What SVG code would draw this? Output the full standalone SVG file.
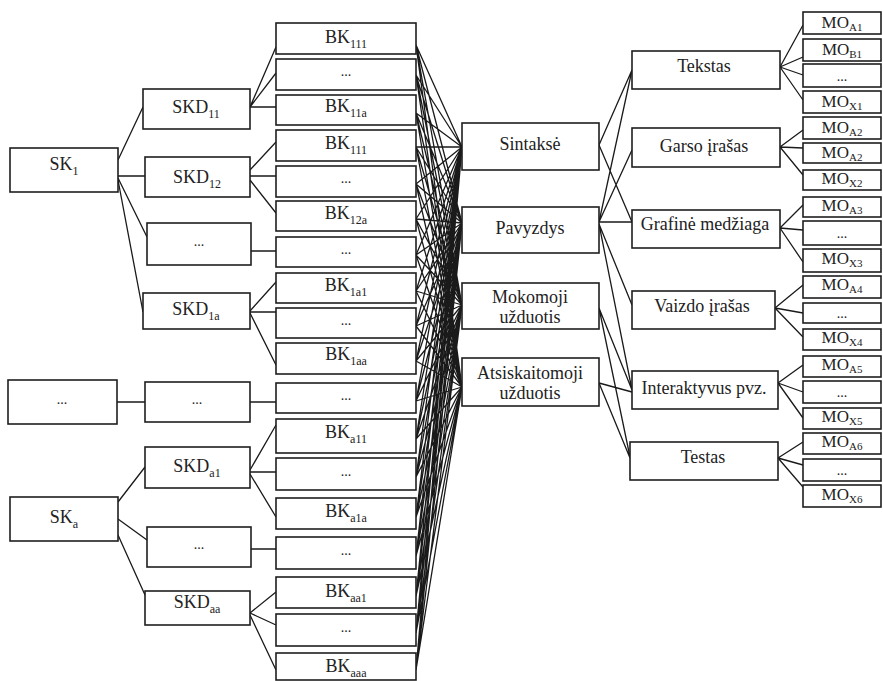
<svg xmlns="http://www.w3.org/2000/svg" width="883" height="681" viewBox="0 0 883 681">
<style>
rect{fill:#fff;stroke:#1e1e1e;stroke-width:1.6}
text{font-family:'Liberation Serif','Times New Roman',serif;font-size:18px;fill:#222;text-anchor:middle}
.s{font-size:12px}
.d{font-size:14px}
.mo{font-size:17px}
.ms{font-size:11px}
#connectors path{fill:none;stroke:#1a1a1a;stroke-width:1.3}
</style>
<rect x="0" y="0" width="883" height="681" style="fill:#fff;stroke:none"/>
<g id="connectors">
<path d="M118 160L143 107M118 176L145 176M118 178L147 237M118 180L143 312M117 402L145 402M118 502L145 467M118 519L147 540M118 535L145 595"/>
<path d="M250 107L276 47M250 107L276 73M250 107L276 107M250 170L276 142M250 176L276 176M250 180L276 213M251 251L276 251M250 311L276 282M250 312L276 312M250 313L276 365M250 402L276 402M250 470L276 425M250 472L276 472M250 474L276 517M251 549L276 549M250 613L276 592M250 613L276 625M250 615L276 670"/>
<path d="M416 45L462 147M416 45L462 223M416 45L462 305M416 45L462 387
M416 75L462 147M416 75L462 223M416 75L462 305M416 75L462 387
M416 113L462 147M416 113L462 223M416 113L462 305M416 113L462 387
M416 147L462 147M416 147L462 223M416 147L462 305M416 147L462 387
M416 184L462 147M416 184L462 223M416 184L462 305M416 184L462 387
M416 219L462 147M416 219L462 223M416 219L462 305M416 219L462 387
M416 255L462 147M416 255L462 223M416 255L462 305M416 255L462 387
M416 291L462 147M416 291L462 223M416 291L462 305M416 291L462 387
M416 326L462 147M416 326L462 223M416 326L462 305M416 326L462 387
M416 361L462 147M416 361L462 223M416 361L462 305M416 361L462 387
M416 401L462 147M416 401L462 223M416 401L462 305M416 401L462 387
M416 439L462 147M416 439L462 223M416 439L462 305M416 439L462 387
M416 477L462 147M416 477L462 223M416 477L462 305M416 477L462 387
M416 517L462 147M416 517L462 223M416 517L462 305M416 517L462 387
M416 556L462 147M416 556L462 223M416 556L462 305M416 556L462 387
M416 596L462 147M416 596L462 223M416 596L462 305M416 596L462 387
M416 633L462 147M416 633L462 223M416 633L462 305M416 633L462 387
M416 670L462 147M416 670L462 223M416 670L462 305M416 670L462 387"/>
<path d="M599 145L632 70M599 145L632 222M599 222L632 70M599 222L632 150M599 222L632 222M599 224L632 305M599 224L632 390M599 308L632 390M599 308L630 457M599 383L632 392M599 383L630 458"/>
<path d="M780 67L803 25M780 67L803 57M780 67L803 75M780 67L803 100M780 147L803 130M780 147L803 148M780 147L803 175M780 228L803 205M780 228L803 230M780 228L803 262M775 308L803 285M775 308L803 313M775 308L803 337M778 383L803 365M778 383L803 392M778 383L803 418M778 458L803 442M778 458L803 465M778 458L803 487"/>
</g>
<g id="sk1"><rect x="10" y="148" width="108" height="44"/><text x="64" y="170">SK<tspan class="s" dy="5">1</tspan></text></g>
<g id="skdots"><rect x="8" y="380" width="109" height="44"/><text class="d" x="62" y="404">...</text></g>
<g id="ska"><rect x="10" y="497" width="108" height="44"/><text x="64" y="523">SK<tspan class="s" dy="5">a</tspan></text></g>
<g id="skd11"><rect x="143" y="89" width="107" height="40"/><text x="196" y="113">SKD<tspan class="s" dy="5">11</tspan></text></g>
<g id="skd12"><rect x="145" y="157" width="105" height="40"/><text x="197" y="183">SKD<tspan class="s" dy="5">12</tspan></text></g>
<g id="skddots1"><rect x="147" y="223" width="104" height="42"/><text class="d" x="199" y="246">...</text></g>
<g id="skd1a"><rect x="143" y="293" width="107" height="36"/><text x="196" y="315">SKD<tspan class="s" dy="5">1a</tspan></text></g>
<g id="skddots2"><rect x="145" y="382" width="105" height="40"/><text class="d" x="197" y="404">...</text></g>
<g id="skda1"><rect x="145" y="447" width="105" height="41"/><text x="197" y="472">SKD<tspan class="s" dy="5">a1</tspan></text></g>
<g id="skddots3"><rect x="147" y="527" width="104" height="40"/><text class="d" x="199" y="549">...</text></g>
<g id="skdaa"><rect x="145" y="591" width="105" height="34"/><text x="197" y="608">SKD<tspan class="s" dy="5">aa</tspan></text></g>
<g id="bk111"><rect x="276" y="23" width="140" height="31"/><text x="346" y="43">BK<tspan class="s" dy="5">111</tspan></text></g>
<g id="bkd1"><rect x="276" y="59" width="140" height="31"/><text class="d" x="346" y="76">...</text></g>
<g id="bk11a"><rect x="276" y="95" width="140" height="30"/><text x="346" y="112">BK<tspan class="s" dy="5">11a</tspan></text></g>
<g id="bk111b"><rect x="276" y="130" width="140" height="31"/><text x="346" y="149">BK<tspan class="s" dy="5">111</tspan></text></g>
<g id="bkd2"><rect x="276" y="166" width="140" height="31"/><text class="d" x="346" y="183">...</text></g>
<g id="bk12a"><rect x="276" y="201" width="140" height="30"/><text x="346" y="219">BK<tspan class="s" dy="5">12a</tspan></text></g>
<g id="bkd3"><rect x="276" y="237" width="140" height="30"/><text class="d" x="346" y="254">...</text></g>
<g id="bk1a1"><rect x="276" y="273" width="140" height="30"/><text x="346" y="291">BK<tspan class="s" dy="5">1a1</tspan></text></g>
<g id="bkd4"><rect x="276" y="308" width="140" height="30"/><text class="d" x="346" y="325">...</text></g>
<g id="bk1aa"><rect x="276" y="343" width="140" height="31"/><text x="346" y="360">BK<tspan class="s" dy="5">1aa</tspan></text></g>
<g id="bkd5"><rect x="276" y="383" width="140" height="30"/><text class="d" x="346" y="400">...</text></g>
<g id="bka11"><rect x="276" y="419" width="140" height="34"/><text x="346" y="438">BK<tspan class="s" dy="5">a11</tspan></text></g>
<g id="bkd6"><rect x="276" y="458" width="140" height="32"/><text class="d" x="346" y="476">...</text></g>
<g id="bka1a"><rect x="276" y="498" width="140" height="31"/><text x="346" y="517">BK<tspan class="s" dy="5">a1a</tspan></text></g>
<g id="bkd7"><rect x="276" y="537" width="140" height="32"/><text class="d" x="346" y="555">...</text></g>
<g id="bkaa1"><rect x="276" y="577" width="140" height="31"/><text x="346" y="597">BK<tspan class="s" dy="5">aa1</tspan></text></g>
<g id="bkd8"><rect x="276" y="614" width="140" height="32"/><text class="d" x="346" y="632">...</text></g>
<g id="bkaaa"><rect x="276" y="653" width="140" height="27"/><text x="346" y="672">BK<tspan class="s" dy="5">aaa</tspan></text></g>
<g id="sintakse"><rect x="462" y="123" width="137" height="47"/><text x="530" y="150">Sintaksė</text></g>
<g id="pavyzdys"><rect x="462" y="207" width="137" height="46"/><text x="530" y="234">Pavyzdys</text></g>
<g id="mokomoji"><rect x="462" y="283" width="137" height="46"/><text x="530" y="303">Mokomoji</text><text x="530" y="323">užduotis</text></g>
<g id="atsiskaitomoji"><rect x="462" y="358" width="137" height="48"/><text x="530" y="379">Atsiskaitomoji</text><text x="530" y="399">užduotis</text></g>
<g id="tekstas"><rect x="632" y="51" width="148" height="38"/><text x="704" y="72">Tekstas</text></g>
<g id="garso"><rect x="632" y="128" width="148" height="39"/><text x="704" y="152">Garso įrašas</text></g>
<g id="grafine"><rect x="632" y="210" width="148" height="38"/><text x="705" y="230">Grafinė medžiaga</text></g>
<g id="vaizdo"><rect x="632" y="291" width="143" height="38"/><text x="702" y="312">Vaizdo įrašas</text></g>
<g id="interaktyvus"><rect x="632" y="371" width="146" height="38"/><text x="704" y="394">Interaktyvus pvz.</text></g>
<g id="testas"><rect x="630" y="442" width="148" height="38"/><text x="703" y="463">Testas</text></g>
<g id="moa1"><rect x="803" y="12" width="78" height="22"/><text class="mo" x="842" y="28">MO<tspan class="ms" dy="3">A1</tspan></text></g>
<g id="mob1"><rect x="803" y="39" width="78" height="22"/><text class="mo" x="842" y="55">MO<tspan class="ms" dy="3">B1</tspan></text></g>
<g id="mod1"><rect x="803" y="64" width="78" height="23"/><text class="d" x="842" y="81">...</text></g>
<g id="mox1"><rect x="803" y="91" width="78" height="22"/><text class="mo" x="842" y="107">MO<tspan class="ms" dy="3">X1</tspan></text></g>
<g id="moa2"><rect x="803" y="117" width="78" height="22"/><text class="mo" x="842" y="133">MO<tspan class="ms" dy="3">A2</tspan></text></g>
<g id="moa2b"><rect x="803" y="143" width="78" height="20"/><text class="mo" x="842" y="158">MO<tspan class="ms" dy="3">A2</tspan></text></g>
<g id="mox2"><rect x="803" y="170" width="78" height="20"/><text class="mo" x="842" y="184">MO<tspan class="ms" dy="3">X2</tspan></text></g>
<g id="moa3"><rect x="803" y="197" width="78" height="20"/><text class="mo" x="842" y="211">MO<tspan class="ms" dy="3">A3</tspan></text></g>
<g id="mod3"><rect x="803" y="221" width="78" height="24"/><text class="d" x="842" y="238">...</text></g>
<g id="mox3"><rect x="803" y="249" width="78" height="23"/><text class="mo" x="842" y="264">MO<tspan class="ms" dy="3">X3</tspan></text></g>
<g id="moa4"><rect x="803" y="276" width="78" height="22"/><text class="mo" x="842" y="290">MO<tspan class="ms" dy="3">A4</tspan></text></g>
<g id="mod4"><rect x="803" y="303" width="78" height="20"/><text class="d" x="842" y="318">...</text></g>
<g id="mox4"><rect x="803" y="329" width="78" height="21"/><text class="mo" x="842" y="343">MO<tspan class="ms" dy="3">X4</tspan></text></g>
<g id="moa5"><rect x="803" y="356" width="78" height="21"/><text class="mo" x="842" y="370">MO<tspan class="ms" dy="3">A5</tspan></text></g>
<g id="mod5"><rect x="803" y="381" width="78" height="22"/><text class="d" x="842" y="397">...</text></g>
<g id="mox5"><rect x="803" y="408" width="78" height="21"/><text class="mo" x="842" y="422">MO<tspan class="ms" dy="3">X5</tspan></text></g>
<g id="moa6"><rect x="803" y="433" width="78" height="21"/><text class="mo" x="842" y="447">MO<tspan class="ms" dy="3">A6</tspan></text></g>
<g id="mod6"><rect x="803" y="459" width="78" height="22"/><text class="d" x="842" y="475">...</text></g>
<g id="mox6"><rect x="803" y="485" width="78" height="22"/><text class="mo" x="842" y="500">MO<tspan class="ms" dy="3">X6</tspan></text></g>
</svg>
